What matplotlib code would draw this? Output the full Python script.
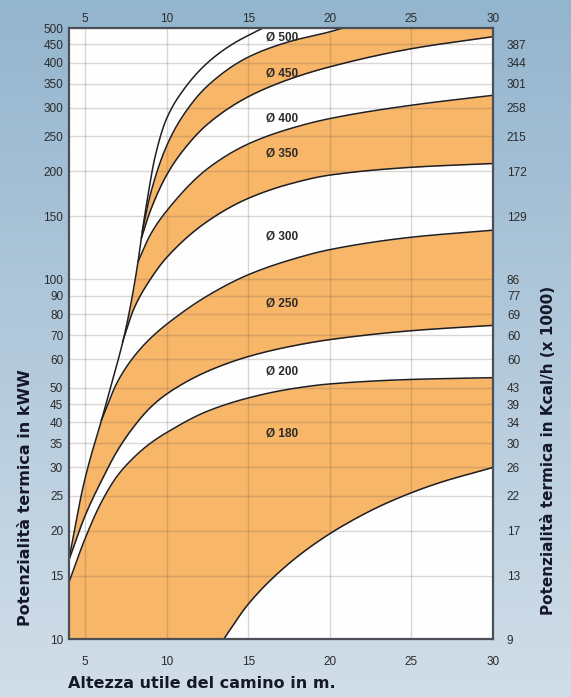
import matplotlib
matplotlib.use('Agg')
import matplotlib.pyplot as plt
import numpy as np

plt.rcParams['font.family'] = ['Liberation Sans', 'DejaVu Sans']

# Chimney chart: thermal power (kW) vs useful height (m), one curve per flue diameter
# left envelope (minimum height) continuing into the top curve
env_x = [4.0, 4.4, 4.8, 5.3, 5.9, 6.4, 7.0, 7.35, 7.8, 8.25,
         8.5, 8.8, 9.3, 10.0, 11.0, 12.5, 14.0, 15.9]
env_v = [16.5, 20.5, 25.5, 31.5, 39, 47, 59, 68, 85, 112,
         135, 165, 220, 280, 335, 400, 450, 500]

# curves branching off the envelope (top to bottom)
c2_x = [8.5, 9.0, 10.0, 11.0, 12.5, 15.0, 17.5, 20.0, 20.8]
c2_v = [135, 172, 235, 285, 345, 415, 458, 488, 500]
c3_x = [8.45, 9.0, 10.0, 11.0, 12.5, 15.0, 17.5, 20.0, 25.0, 30.0]
c3_v = [130, 155, 195, 228, 270, 322, 360, 390, 438, 473]
c4_x = [8.25, 9.0, 10.0, 12.5, 15.0, 17.5, 20.0, 25.0, 30.0]
c4_v = [112, 133, 155, 203, 238, 262, 280, 305, 325]
c5_x = [7.3, 8.0, 9.0, 10.0, 12.5, 15.0, 17.5, 20.0, 25.0, 30.0]
c5_v = [67, 83, 100, 115, 145, 168, 184, 195, 205, 210]
c6_x = [6.0, 7.0, 8.0, 9.0, 10.0, 12.5, 15.0, 17.5, 20.0, 25.0, 30.0]
c6_v = [40.5, 52, 61, 68.5, 75, 90, 103, 113, 121, 131, 137]
c7_x = [4.0, 5.0, 6.0, 7.0, 8.0, 9.0, 10.0, 12.5, 15.0, 17.5, 20.0, 25.0, 30.0]
c7_v = [16.5, 22, 27.5, 33.5, 39, 44, 48, 55.5, 61, 65, 68, 72, 74.5]
c8_x = [4.0, 5.0, 6.0, 7.0, 8.0, 9.0, 10.0, 12.5, 15.0, 17.5, 20.0, 25.0, 30.0]
c8_v = [14.3, 19, 24, 28.5, 32, 35, 37.5, 43, 46.8, 49.5, 51.2, 52.7, 53.3]
c9_x = [13.5, 15.0, 17.0, 19.0, 21.0, 23.5, 26.5, 30.0]
c9_v = [10, 12.5, 15.5, 18.3, 20.9, 23.9, 27, 30]

diam_labels = ['Ø 500', 'Ø 450', 'Ø 400', 'Ø 350', 'Ø 300', 'Ø 250', 'Ø 200', 'Ø 180']
diam_label_v = [471, 374, 281, 224, 132, 85.5, 55.3, 37.2]

kw_ticks = [10, 15, 20, 25, 30, 35, 40, 45, 50, 60, 70, 80, 90, 100,
            150, 200, 250, 300, 350, 400, 450, 500]
kcal_ticks = [10, 15, 20, 25, 30, 35, 40, 45, 50, 60, 70, 80, 90, 100,
              150, 200, 250, 300, 350, 400, 450]
kcal_labels = ['9', '13', '17', '22', '26', '30', '34', '39', '43', '60', '60',
               '69', '77', '86', '129', '172', '215', '258', '301', '344', '387']
x_ticks = [5, 10, 15, 20, 25, 30]

XMIN, XMAX, YMIN, YMAX = 4, 30, 10, 500
ORANGE = '#f7b668'


def pchip(xk, yk, xq):
    xk = np.asarray(xk, float)
    yk = np.asarray(yk, float)
    h = np.diff(xk)
    d = np.diff(yk) / h
    m = np.zeros_like(yk)
    m[0], m[-1] = d[0], d[-1]
    for k in range(1, len(xk) - 1):
        if d[k - 1] * d[k] > 0:
            w1 = 2 * h[k] + h[k - 1]
            w2 = h[k] + 2 * h[k - 1]
            m[k] = (w1 + w2) / (w1 / d[k - 1] + w2 / d[k])
    i = np.clip(np.searchsorted(xk, xq) - 1, 0, len(xk) - 2)
    t = (xq - xk[i]) / h[i]
    h00 = 2 * t**3 - 3 * t**2 + 1
    h10 = t**3 - 2 * t**2 + t
    h01 = -2 * t**3 + 3 * t**2
    h11 = t**3 - t**2
    return h00 * yk[i] + h10 * h[i] * m[i] + h01 * yk[i + 1] + h11 * h[i] * m[i + 1]


x = np.linspace(XMIN, XMAX, 3000)


def own(cx, cv):
    g = 10 ** pchip(cx, np.log10(cv), x)
    inside = (x >= cx[0]) & (x <= cx[-1])
    return g, inside


E, e_in = own(env_x, env_v)
E = np.where(x > env_x[-1], YMAX * 1.2, E)


def branch(cx, cv, left=None):
    g, inside = own(cx, cv)
    f = np.where(x < cx[0], E if left is None else left, g)
    f = np.where(x > cx[-1], YMAX * 1.2, f)
    return np.minimum(f, E), g, inside


curves = [(c2_x, c2_v), (c3_x, c3_v), (c4_x, c4_v), (c5_x, c5_v),
          (c6_x, c6_v), (c7_x, c7_v), (c8_x, c8_v)]
F = [E]
G = []
for cx, cv in curves:
    f, g, inside = branch(cx, cv)
    F.append(f)
    G.append((g, inside))
f9, g9, in9 = branch(c9_x, c9_v, left=np.full_like(x, YMIN))
F.append(f9)
G.append((g9, in9))

fig = plt.figure(figsize=(5.71, 6.97), dpi=100)

# blue gradient background
bg = fig.add_axes([0, 0, 1, 1], zorder=-10)
grad = np.linspace(0, 1, 256)[:, None]
top = np.array([0.58, 0.71, 0.81])
bot = np.array([0.82, 0.87, 0.91])
img = top[None, None, :] * (1 - grad[..., None]) + bot[None, None, :] * grad[..., None]
bg.imshow(img, aspect='auto', extent=[0, 1, 0, 1])
bg.axis('off')

ax = fig.add_axes([0.1203, 0.0832, 0.7431, 0.8766])
ax.set_facecolor('#fefefe')
ax.set_yscale('log')
ax.set_xlim(XMIN, XMAX)
ax.set_ylim(YMIN, YMAX)

# orange bands: 450, 350, 250, 180
for i in (1, 3, 5, 7):
    ax.fill_between(x, F[i + 1], F[i], color=ORANGE, lw=0, zorder=1)

# grid drawn over the fills so it darkens inside the orange bands
for v in kw_ticks:
    ax.axhline(v, color='#6e6256', alpha=0.25, lw=1.0, zorder=2)
for v in x_ticks[:-1]:
    ax.axvline(v, color='#6e6256', alpha=0.25, lw=1.0, zorder=2)

# curve lines
ax.plot(x, np.where(x <= env_x[-1], E, np.nan), color='#1e1e24', lw=1.1, zorder=3)
for g, inside in G:
    ax.plot(x[inside], g[inside], color='#1e1e24', lw=1.1, zorder=3)

for lab, v in zip(diam_labels, diam_label_v):
    ax.text(16.1, v, lab, fontsize=8.5, fontweight='bold', color='#2a2a2a',
            va='center', ha='left', zorder=4)

ax.set_yticks(kw_ticks)
ax.set_yticklabels([str(v) for v in kw_ticks])
ax.yaxis.set_minor_locator(matplotlib.ticker.NullLocator())
ax.set_xticks(x_ticks)
ax.tick_params(axis='both', length=0, labelsize=8.5, colors='#2b2b2b')
ax.tick_params(axis='x', pad=12)
ax.tick_params(axis='y', pad=4)
for s in ax.spines.values():
    s.set_color('#4a4f58')
    s.set_linewidth(1.6)
    s.set_zorder(5)

topx = ax.secondary_xaxis('top')
topx.set_xticks(x_ticks)
topx.tick_params(length=0, labelsize=8.5, colors='#2b2b2b', pad=2)
topx.spines['top'].set_visible(False)

ax2 = ax.twinx()
ax2.set_yscale('log')
ax2.set_ylim(YMIN, YMAX)
ax2.set_yticks(kcal_ticks)
ax2.set_yticklabels(kcal_labels)
ax2.yaxis.set_minor_locator(matplotlib.ticker.NullLocator())
ax2.tick_params(axis='y', length=0, labelsize=8.5, colors='#2b2b2b', pad=10)
for s in ax2.spines.values():
    s.set_visible(False)

lab_font = ['DejaVu Sans']
fig.text(0.119, 0.008, 'Altezza utile del camino in m.', fontsize=11.5,
         fontweight='bold', color='#15182a', ha='left', va='bottom', family=lab_font)
fig.text(0.031, 0.102, 'Potenzialità termica in kWW', fontsize=11.5,
         fontweight='bold', color='#15182a', rotation=90, ha='left', va='bottom',
         family=lab_font)
fig.text(0.948, 0.117, 'Potenzialità termica in Kcal/h (x 1000)', fontsize=11,
         fontweight='bold', color='#15182a', rotation=90, ha='left', va='bottom',
         family=lab_font)

fig.savefig('out.png', dpi=100)
